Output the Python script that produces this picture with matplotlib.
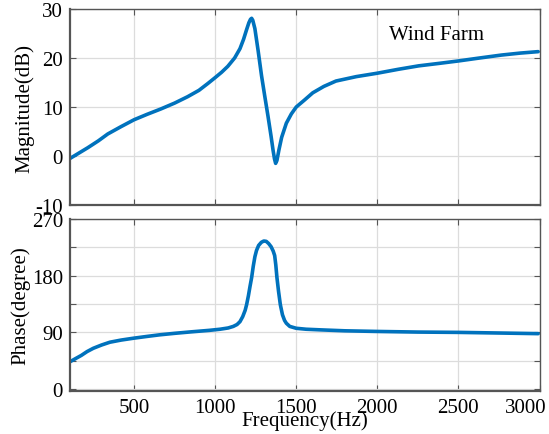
import matplotlib
matplotlib.use("Agg")
import matplotlib.pyplot as plt
import matplotlib.transforms as mtransforms

# Magnitude response
mag_freq = [105, 160, 215, 280, 338, 420, 500, 580, 665, 750, 830, 900, 955, 1000,
            1040, 1078, 1120, 1153, 1175, 1194, 1208, 1218, 1225, 1232, 1245, 1265,
            1286, 1306, 1326, 1345, 1357, 1366, 1373, 1381, 1393, 1410, 1439, 1470,
            1500, 1550, 1602, 1670, 1745, 1870, 2000, 2130, 2255, 2380, 2500, 2630,
            2765, 2880, 2992]
mag_db = [-0.5, 0.6, 1.7, 3.1, 4.5, 6.0, 7.4, 8.5, 9.6, 10.8, 12.1, 13.4, 14.8, 16.0,
          17.1, 18.3, 20.0, 21.9, 23.8, 25.8, 27.2, 27.9, 28.1, 27.7, 26.0, 21.5,
          16.4, 12.2, 8.1, 4.0, 1.2, -0.6, -1.5, -0.9, 1.2, 3.8, 6.7, 8.6,
          10.0, 11.4, 12.9, 14.2, 15.3, 16.2, 16.9, 17.7, 18.4, 18.9, 19.4, 20.0,
          20.6, 21.0, 21.3]

# Phase response
ph_freq = [105, 140, 175, 210, 249, 300, 351, 420, 498, 580, 657, 750, 850, 963,
           1030, 1080, 1112, 1135, 1153, 1170, 1185, 1194, 1205, 1215, 1225, 1235,
           1245, 1255, 1268, 1285, 1300, 1315, 1330, 1345, 1358, 1367, 1374, 1381,
           1391, 1402, 1415, 1428, 1439, 1460, 1500, 1561, 1650, 1800, 2000, 2250,
           2500, 2750, 2992]
ph_deg = [43.4, 48.5, 53.5, 59.5, 64.8, 70.0, 74.4, 77.8, 80.8, 83.6, 86.1, 88.5, 90.8, 93.2,
          95.0, 97.0, 99.5, 102.5, 107, 115, 125, 134, 148, 163, 177, 195,
          210, 220, 228, 233, 235, 234.5, 231, 226, 219, 212, 197, 177,
          155, 134, 118, 109, 104.5, 99.5, 96.5, 95, 94, 92.5, 91.5, 90.5,
          90, 89, 88]

mag_ticks = [-10, 0, 10, 20, 30]
ph_ticks = [0, 90, 180, 270]
ph_minor = [45, 135, 225]
freq_ticks = [500, 1000, 1500, 2000, 2500, 3000]

plt.rcParams['font.family'] = ['Liberation Serif', 'DejaVu Serif']
plt.rcParams['font.size'] = 15
plt.rcParams['axes.unicode_minus'] = False

line_color = '#0072BD'
spine_color = '#555555'
grid_color = '#dcdcdc'
fs = 15

fig = plt.figure(figsize=(5.49, 4.35), dpi=100)
ax1 = fig.add_axes([0.1275, 0.5264, 0.8552, 0.4506])
ax2 = fig.add_axes([0.1275, 0.0989, 0.8552, 0.3954])

for ax in (ax1, ax2):
    for s in ax.spines.values():
        s.set_color(spine_color)
        s.set_linewidth(1.0)
    ax.spines['left'].set_linewidth(1.6)
    ax.spines['bottom'].set_linewidth(1.6)
    ax.tick_params(direction='in', length=4, width=0.8, color=spine_color,
                   top=True, right=True, labelsize=fs, pad=5)
    ax.tick_params(which='minor', direction='in', length=4, width=0.8,
                   color=spine_color, top=True, right=True)
    ax.set_xlim(105, 2992)
    ax.set_xticks(freq_ticks)
    ax.grid(True, which='both', color=grid_color, linewidth=0.9)
    ax.set_axisbelow(True)

ax1.plot(mag_freq, mag_db, color=line_color, linewidth=2.6,
         solid_capstyle='round', solid_joinstyle='round')
ax1.set_ylim(-10, 30)
ax1.set_yticks(mag_ticks)
ax1.set_xticklabels([])
ax1.set_ylabel('Magnitude(dB)', fontsize=fs, labelpad=1)
ax1.text(0.68, 0.87, 'Wind Farm', transform=ax1.transAxes, fontsize=fs,
         ha='left', va='center')

ax2.plot(ph_freq, ph_deg, color=line_color, linewidth=2.6,
         solid_capstyle='round', solid_joinstyle='round')
ax2.set_ylim(-3, 270)
ax2.set_yticks(ph_ticks)
ax2.set_yticks(ph_minor, minor=True)
ax2.set_ylabel('Phase(degree)', fontsize=fs, labelpad=1)
ax2.set_xticklabels([str(t) for t in freq_ticks])
ax2.set_xlabel('Frequency(Hz)', fontsize=fs, labelpad=-5)

fig.canvas.draw()
last = ax2.get_xticklabels()[-1]
last.set_horizontalalignment('right')
last.set_transform(last.get_transform() +
                   mtransforms.ScaledTranslation(7 / 100, 0, fig.dpi_scale_trans))

fig.savefig('out.png', dpi=100)
